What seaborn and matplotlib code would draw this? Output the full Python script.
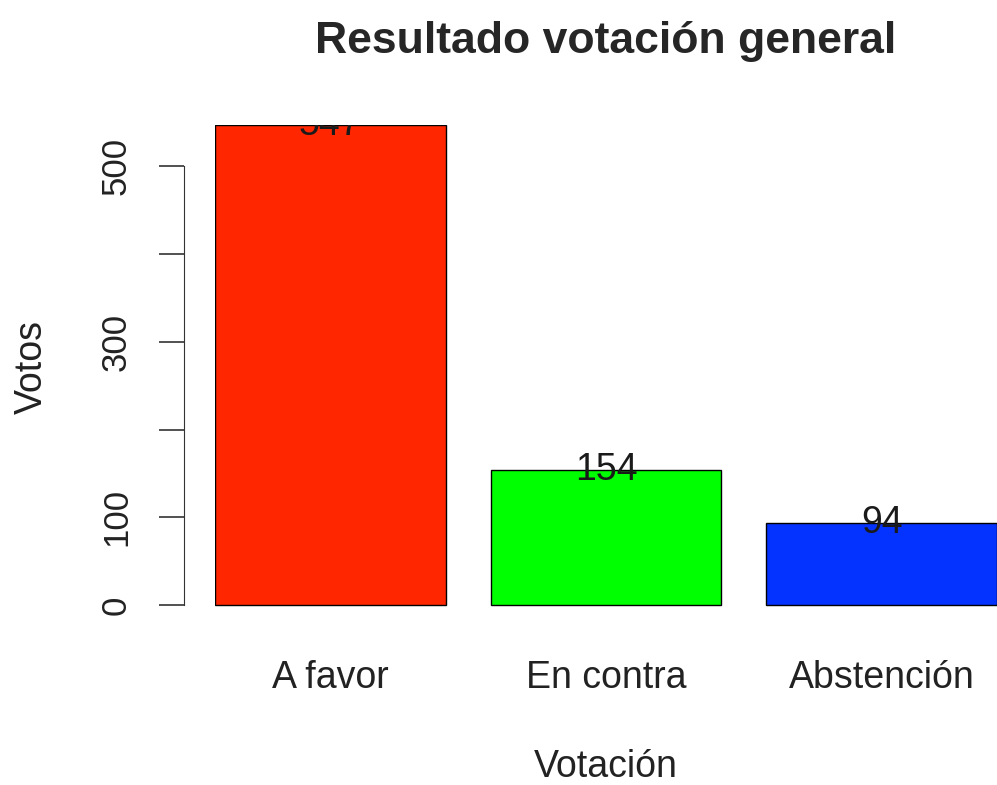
import matplotlib
matplotlib.use("Agg")
import matplotlib.pyplot as plt
import pandas as pd
import seaborn as sns

# Datos de la votación
categorias = ["A favor", "En contra", "Abstención"]
votos = [547, 154, 94]
colores = ["#FF2600", "#00FF00", "#0433FF"]
ticks_y = [0, 100, 200, 300, 400, 500]
etiquetas_y = ["0", "100", "", "300", "", "500"]

df = pd.DataFrame({"Votación": categorias, "Votos": votos})

sns.set_style("white")
plt.rcParams["font.family"] = ["Liberation Sans", "DejaVu Sans"]

fig = plt.figure(figsize=(9.97, 7.85), dpi=100)
ax = fig.add_axes([215 / 997, (785 - 610) / 785, 1 - 215 / 997, (610 - 125) / 785])

sns.barplot(data=df, x="Votación", y="Votos", hue="Votación", palette=colores,
            width=0.836, edgecolor="black", linewidth=1, legend=False, ax=ax,
            saturation=1)

# etiquetas de valor centradas en el borde superior de cada barra
for i, v in enumerate(votos):
    ax.text(i, v, str(v), ha="center", va="center", fontsize=27, color="#1a1a1a",
            clip_on=True)

ax.set_xlim(-0.418, 2.418)
ax.set_ylim(-5.47, 547)

for s in ["top", "right", "bottom"]:
    ax.spines[s].set_visible(False)
ax.spines["left"].set_position(("outward", 22))
ax.spines["left"].set_bounds(0, 500)
ax.spines["left"].set_color("#333333")

ax.set_yticks(ticks_y)
ax.set_yticklabels(etiquetas_y, rotation=90, va="center", fontsize=25, color="#222222")
ax.tick_params(axis="y", length=18, width=1.2, color="#333333", pad=19, left=True)
ax.tick_params(axis="x", length=0, pad=36, labelsize=27, labelcolor="#222222")

ax.set_xlabel("Votación", fontsize=27, labelpad=38, color="#222222")
ax.set_ylabel("Votos", fontsize=27, labelpad=36, color="#222222")
ax.set_title("Resultado votación general", fontsize=32, fontweight="bold", pad=52)

fig.savefig("out.png", dpi=100)
